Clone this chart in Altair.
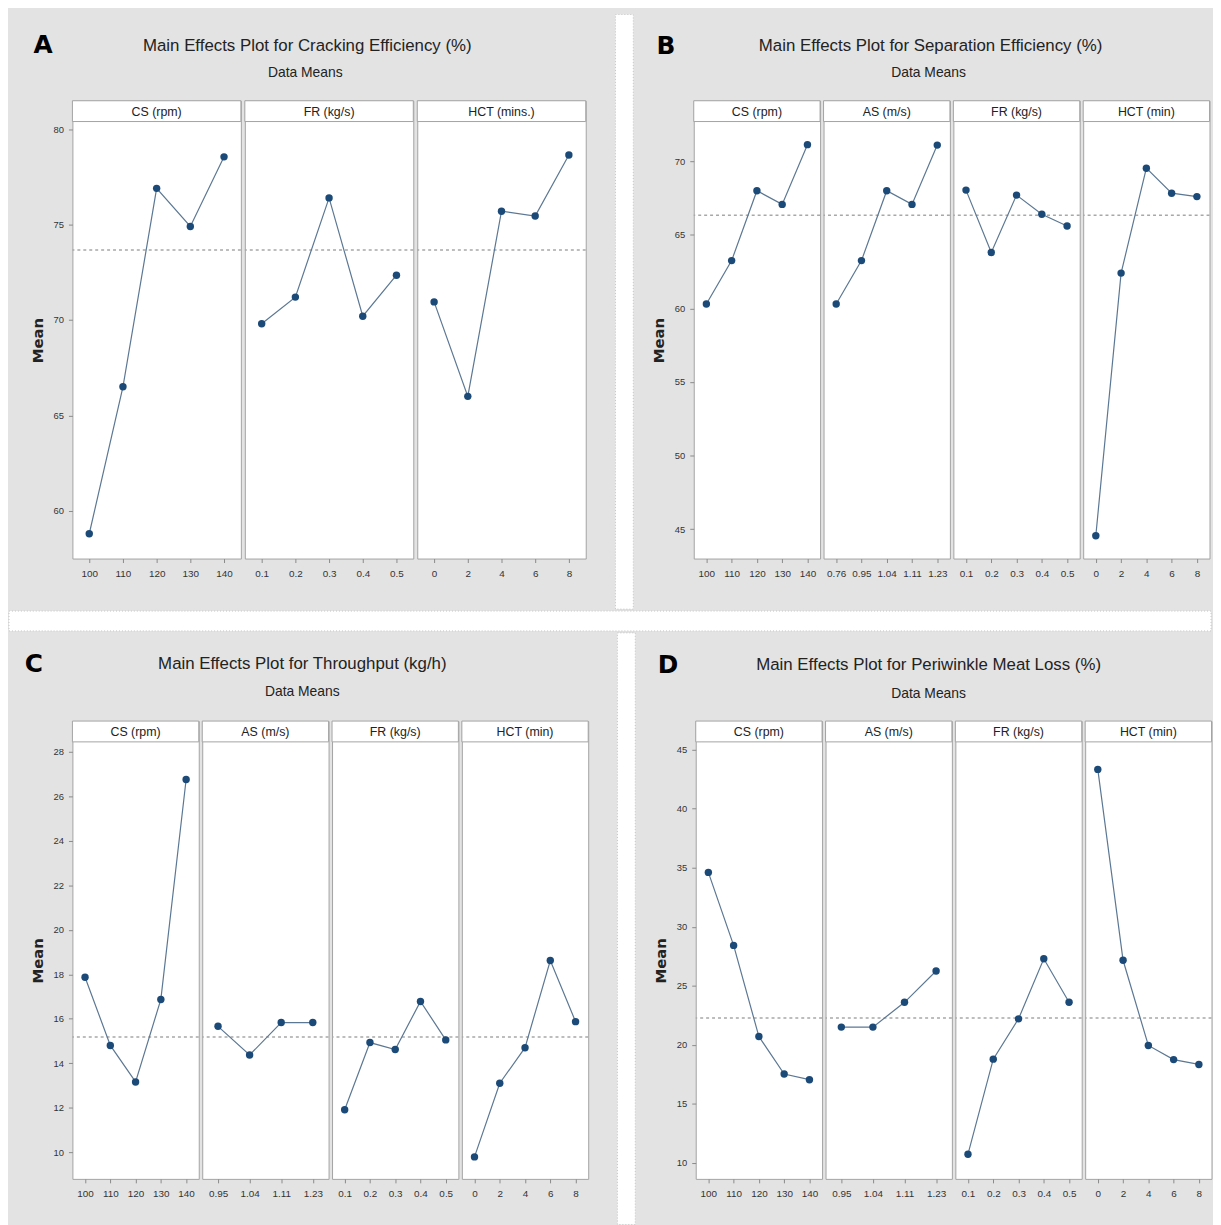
import altair as alt
import pandas as pd

# ---------------- data ----------------
A_title = "Main Effects Plot for Cracking Efficiency (%)"
A_factors = ["CS (rpm)", "FR (kg/s)", "HCT (mins.)"]
A_levels = [["100", "110", "120", "130", "140"],
            ["0.1", "0.2", "0.3", "0.4", "0.5"],
            ["0", "2", "4", "6", "8"]]
A_means = [[58.8, 66.5, 76.9, 74.9, 78.55],
           [69.8, 71.2, 76.4, 70.2, 72.35],
           [70.95, 66.0, 75.7, 75.45, 78.65]]
A_grand = 73.67
A_domain = [57.5, 80.4]
A_ticks = [60, 65, 70, 75, 80]

B_title = "Main Effects Plot for Separation Efficiency (%)"
B_factors = ["CS (rpm)", "AS (m/s)", "FR (kg/s)", "HCT (min)"]
B_levels = [["100", "110", "120", "130", "140"],
            ["0.76", "0.95", "1.04", "1.11", "1.23"],
            ["0.1", "0.2", "0.3", "0.4", "0.5"],
            ["0", "2", "4", "6", "8"]]
B_means = [[60.3, 63.25, 68.0, 67.07, 71.13],
           [60.3, 63.25, 68.0, 67.07, 71.1],
           [68.04, 63.8, 67.7, 66.4, 65.6],
           [44.55, 62.4, 69.53, 67.83, 67.6]]
B_grand = 66.33
B_domain = [43.0, 72.7]
B_ticks = [45, 50, 55, 60, 65, 70]

C_title = "Main Effects Plot for Throughput (kg/h)"
C_factors = ["CS (rpm)", "AS (m/s)", "FR (kg/s)", "HCT (min)"]
C_levels = [["100", "110", "120", "130", "140"],
            ["0.95", "1.04", "1.11", "1.23"],
            ["0.1", "0.2", "0.3", "0.4", "0.5"],
            ["0", "2", "4", "6", "8"]]
C_means = [[17.87, 14.8, 13.16, 16.87, 26.76],
           [15.66, 14.37, 15.83, 15.83],
           [11.91, 14.93, 14.62, 16.78, 15.05],
           [9.79, 13.1, 14.7, 18.62, 15.87]]
C_grand = 15.18
C_domain = [8.8, 28.45]
C_ticks = [10, 12, 14, 16, 18, 20, 22, 24, 26, 28]

D_title = "Main Effects Plot for Periwinkle Meat Loss (%)"
D_factors = ["CS (rpm)", "AS (m/s)", "FR (kg/s)", "HCT (min)"]
D_levels = [["100", "110", "120", "130", "140"],
            ["0.95", "1.04", "1.11", "1.23"],
            ["0.1", "0.2", "0.3", "0.4", "0.5"],
            ["0", "2", "4", "6", "8"]]
D_means = [[34.6, 28.42, 20.7, 17.53, 17.05],
           [21.5, 21.5, 23.6, 26.25],
           [10.74, 18.79, 22.2, 27.29, 23.6],
           [43.32, 27.16, 19.95, 18.75, 18.34]]
D_grand = 22.28
D_domain = [8.65, 45.65]
D_ticks = [10, 15, 20, 25, 30, 35, 40, 45]

SUBTITLE = "Data Means"

# ---------------- styling ----------------
BG = "#e3e3e3"
FONT = "Liberation Sans, Arial, sans-serif"
FRAME = "#a3a3a3"
LINE_C = "#5b7793"
PT_C = "#1c4a78"
STRIP_H = 21
PLOT_H = 441
TOTAL_H = STRIP_H + PLOT_H
PLOT_W = 510
GAP_W = 63          # spacer between the two panel columns
WHITE_X = [28, 46]  # white gutter inside that spacer


def subplot(factor, levels, means, grand, domain, ticks, w, first):
    yscale = alt.Scale(domain=domain, range=[TOTAL_H, STRIP_H], nice=False, zero=False)
    if first:
        yaxis = alt.Axis(title="Mean", values=ticks, grid=False, domain=False,
                         tickSize=4, tickColor="#8a8a8a", labelFont=FONT,
                         labelFontSize=9.5, labelColor="#333333", labelPadding=5,
                         titleFont="DejaVu Sans", titleFontSize=15,
                         titleFontWeight="bold", titleColor="#222222", titlePadding=8)
    else:
        yaxis = None
    xenc = alt.X("level:O", sort=levels,
                 scale=alt.Scale(type="point", padding=0.5),
                 axis=alt.Axis(title=None, labelAngle=0, domain=False, grid=False,
                               tickSize=4, tickColor="#8a8a8a", labelFont=FONT,
                               labelFontSize=10, labelColor="#333333", labelPadding=6))
    yenc = alt.Y("mean:Q", scale=yscale, axis=yaxis)

    df = pd.DataFrame({"level": levels, "mean": means})
    strip_df = pd.DataFrame({"label": [factor]})
    strip = alt.Chart(strip_df).mark_rect(fill="white", stroke=FRAME, strokeWidth=1).encode(
        x=alt.value(0), x2=alt.value(w), y=alt.value(0), y2=alt.value(STRIP_H))
    label = alt.Chart(strip_df).mark_text(font=FONT, fontSize=12.5, color="#222222",
                                          baseline="middle").encode(
        x=alt.value(w / 2), y=alt.value(STRIP_H / 2 + 0.5), text="label:N")
    rule = alt.Chart(pd.DataFrame({"mean": [grand]})).mark_rule(
        color="#a8a8a8", strokeDash=[3, 3], strokeWidth=1.5).encode(y=yenc)
    line = alt.Chart(df).mark_line(color=LINE_C, strokeWidth=1.2).encode(x=xenc, y=yenc)
    pts = alt.Chart(df).mark_circle(size=56, color=PT_C, opacity=1).encode(x=xenc, y=yenc)
    return alt.layer(strip, label, rule, line, pts).properties(
        width=w, height=TOTAL_H,
        view=alt.ViewBackground(fill="white", stroke=FRAME, strokeWidth=1))


def white(x1, x2, y1, y2):
    return alt.Chart(pd.DataFrame({"a": [0]})).mark_rect(
        fill="white", stroke="#c4c4c4", strokeDash=[1, 2], strokeWidth=1).encode(
        x=alt.value(x1), x2=alt.value(x2), y=alt.value(y1), y2=alt.value(y2))


def txt(s, x, y, size, font=FONT, weight="normal", color="#222222"):
    return alt.Chart(pd.DataFrame({"t": [s]})).mark_text(
        font=font, fontSize=size, fontWeight=weight, color=color,
        align="center", baseline="middle").encode(
        x=alt.value(x), y=alt.value(y), text="t:N")


def heading(letter, lx, ly, title, tx, ty, sx, sy, h):
    return alt.layer(
        txt(letter, lx, ly, 25, font="DejaVu Sans", weight="bold", color="#000000"),
        txt(title, tx, ty, 17),
        txt(SUBTITLE, sx, sy, 14),
    ).properties(width=PLOT_W, height=h)


def column(head, factors, levels, means, grand, domain, ticks):
    n = len(factors)
    w = PLOT_W / n
    subs = [subplot(factors[i], levels[i], means[i], grand, domain, ticks, w, i == 0)
            for i in range(n)]
    return alt.vconcat(head, alt.hconcat(*subs, spacing=0), spacing=0)


def vgap(bottom):
    return white(WHITE_X[0], WHITE_X[1], 0, bottom).properties(width=GAP_W, height=1)


colA = column(heading("A", -29.5, 31, A_title, 237, 32, 235, 59, 86),
              A_factors, A_levels, A_means, A_grand, A_domain, A_ticks)
colB = column(heading("B", -28, 32, B_title, 239, 32, 237, 59, 86),
              B_factors, B_levels, B_means, B_grand, B_domain, B_ticks)
colC = column(heading("C", -39, 31.5, C_title, 232, 31, 232, 60, 88),
              C_factors, C_levels, C_means, C_grand, C_domain, C_ticks)
colD = column(heading("D", -28, 32, D_title, 235, 32.5, 235, 61.5, 88),
              D_factors, D_levels, D_means, D_grand, D_domain, D_ticks)

row1 = alt.hconcat(colA, vgap(600), colB, spacing=0)
row2 = alt.hconcat(colC, vgap(597), colD, spacing=0)
mid_band = white(-64, 1149, 0, 20).properties(width=1, height=20)

chart = alt.vconcat(row1, mid_band, row2, spacing=0).properties(
    padding=0).configure(background=BG).configure_view(strokeWidth=0)

chart.save("out.html", embed_options={"renderer": "svg", "actions": False})
